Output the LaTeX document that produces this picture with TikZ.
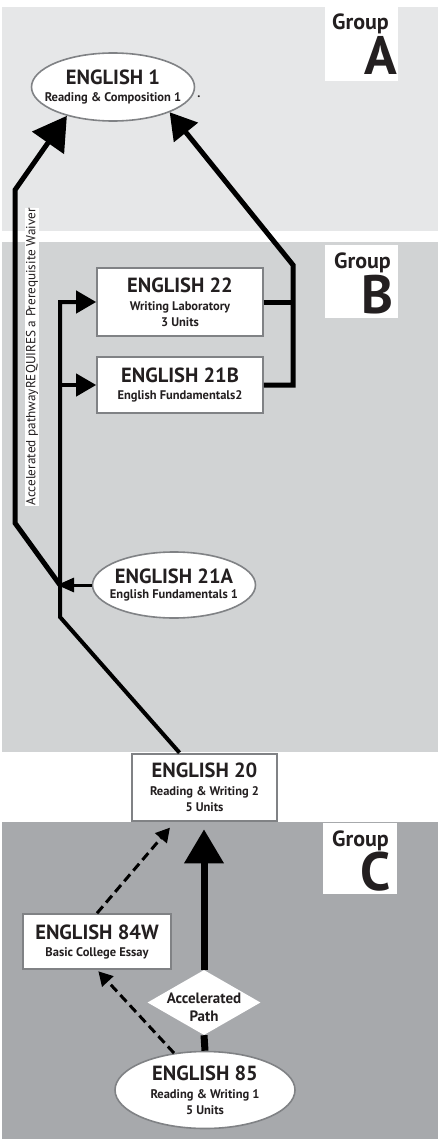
\documentclass[tikz,border=0pt]{standalone}
\usepackage{fontspec}
\setmainfont{PT Sans}
\usetikzlibrary{arrows.meta,shapes.geometric,positioning}
\definecolor{bandA}{HTML}{E6E7E8}
\definecolor{bandB}{HTML}{D1D3D4}
\definecolor{bandC}{HTML}{A7A9AC}
\definecolor{ink}{HTML}{231F20}
\definecolor{rim}{HTML}{808285}
\newcommand{\crstitle}[1]{{\fontsize{20.5}{22}\selectfont #1}}

\begin{document}
\begin{tikzpicture}[x=1pt, y=-1pt,
    crs/.style={draw=rim, line width=1.6pt, fill=white, text=ink, align=center,
                inner sep=0pt, font=\bfseries\fontsize{12.5}{16}\selectfont},
    crsoval/.style={crs, ellipse},
    crstext/.style={text=ink, align=center, inner sep=0pt,
                    font=\bfseries\fontsize{12.5}{16}\selectfont},
    grpbox/.style={fill=white, draw=none, inner sep=0pt},
    grpword/.style={text=ink, inner sep=0pt, anchor=base east,
                    font=\bfseries\fontsize{22}{22}\selectfont},
    grpletter/.style={text=ink, inner sep=0pt, anchor=base east,
                      font=\bfseries\fontsize{54}{54}\selectfont},
    pathline/.style={line width=4pt, draw=black},
    accline/.style={line width=5pt, draw=black},
    bigline/.style={line width=7pt, draw=black},
    dashline/.style={line width=3pt, draw=black, dash pattern=on 9pt off 5pt}
  ]

    \fill[white] (0, 0) rectangle (438, 1142);
    \useasboundingbox (0, 0) rectangle (438, 1142);

    \fill[bandA] (2, 7) rectangle (438, 231);
    \fill[bandB] (2, 242) rectangle (438, 752);
    \fill[bandC] (2, 822) rectangle (438, 1139);

    \fill[grpbox] (325, 7) rectangle (398, 81);
    \fill[grpbox] (325, 245) rectangle (398, 318);
    \fill[grpbox] (323, 823) rectangle (397, 894);
    \node[grpword] (grpAword) at (389, 30) {Group};
    \node[grpletter] (grpA) at (397, 75) {A};
    \node[grpword] (grpBword) at (391, 268) {Group};
    \node[grpletter] (grpB) at (394, 313) {B};
    \node[grpword] (grpCword) at (389, 846) {Group};
    \node[grpletter] (grpC) at (391, 890) {C};

    \node[crsoval, minimum width=163, minimum height=68,
          label={[crstext]center:{\crstitle{ENGLISH 1}\\[1pt]Reading \& Composition 1}}]
        (eng1) at (113, 87) {};
    \node[crstext, anchor=base] (eng1dot) at (199, 98) {.};

    \node[crs, minimum width=166, minimum height=68] (eng22) at (180, 302)
        {\crstitle{ENGLISH 22}\\[2pt]Writing Laboratory\\3 Units};
    \node[crs, minimum width=166, minimum height=56] (eng21b) at (180, 385)
        {\crstitle{ENGLISH 21B}\\[1pt]English Fundamentals2};
    \node[crsoval, minimum width=163, minimum height=66,
          label={[crstext]center:{\crstitle{ENGLISH 21A}\\[-1pt]English Fundamentals 1}}]
        (eng21a) at (174, 585) {};
    \node[crs, line width=2.6pt, minimum width=145, minimum height=67] (eng20) at (204.5, 787.5)
        {\crstitle{ENGLISH 20}\\[2pt]Reading \& Writing 2\\5 Units};
    \node[crs, minimum width=148, minimum height=55] (eng84w) at (97, 941.5)
        {\crstitle{ENGLISH 84W}\\[1pt]Basic College Essay};
    \node[diamond, fill=white, inner sep=0pt, minimum width=113, minimum height=65,
          label={[crstext, font=\bfseries\fontsize{15}{18}\selectfont, yshift=-5pt]center:{Accelerated\\Path}}]
        (accel) at (204, 1002.5) {};
    \node[crsoval, minimum width=180, minimum height=77,
          label={[crstext]center:{\crstitle{ENGLISH 85}\\[2pt]Reading \& Writing 1\\5 Units}}]
        (eng85) at (205, 1090) {};

    \node[fill=white, text=ink, rotate=90, inner sep=1pt,
          font=\fontsize{13.2}{13}\selectfont] (waiver) at (32, 357)
        {Accelerated pathwayREQUIRES a Prerequisite Waiver};

    \coordinate (lowbend) at (60, 617);
    \coordinate (toptee) at (lowbend |- eng22.west);
    \coordinate (midtee) at (lowbend |- eng21b.west);
    \coordinate (acctee) at (lowbend |- eng21a.west);
    \coordinate (accbot) at (15, 523);
    \coordinate (acctop) at (15, 190);
    \coordinate (rightbot) at (293, 385);
    \coordinate (righttop) at (293, 265);

    \draw[pathline, -{Triangle[length=20pt, width=22pt]}, line join=miter]
        ([xshift=-25pt]eng20.north) -- (lowbend) -- (toptee) -- (eng22.west);
    \draw[pathline, -{Triangle[length=20pt, width=22pt]}] (midtee) -- (eng21b.west);
    \draw[line width=3pt, -{Triangle[length=17pt, width=14pt]}, shorten >=-3pt]
        (eng21a.west) -- (acctee);
    \draw[accline, -{Triangle[length=33pt, width=38pt]}]
        (acctee) -- (accbot) -- (acctop) -- (eng1.212);
    \draw[accline, line join=miter]
        (eng22.east) -- (rightbot |- eng22.east);
    \draw[accline, -{Triangle[length=26pt, width=30pt]}]
        (eng21b.east) -- (rightbot) -- (righttop) -- (eng1.336);

    \draw[bigline] (eng85.north) -- (accel.south);
    \draw[bigline, -{Triangle[length=34pt, width=38pt]}, shorten >=7pt]
        (accel.north) -- (accel.north |- eng20.south);
    \draw[dashline, -{Triangle[length=14pt, width=15pt]}, shorten >=2pt]
        (eng85.130) -- (eng84w.south);
    \draw[dashline, -{Triangle[length=14pt, width=15pt]}, shorten >=7pt]
        (eng84w.north) -- ([xshift=-30pt]eng20.south);
\end{tikzpicture}
\end{document}
